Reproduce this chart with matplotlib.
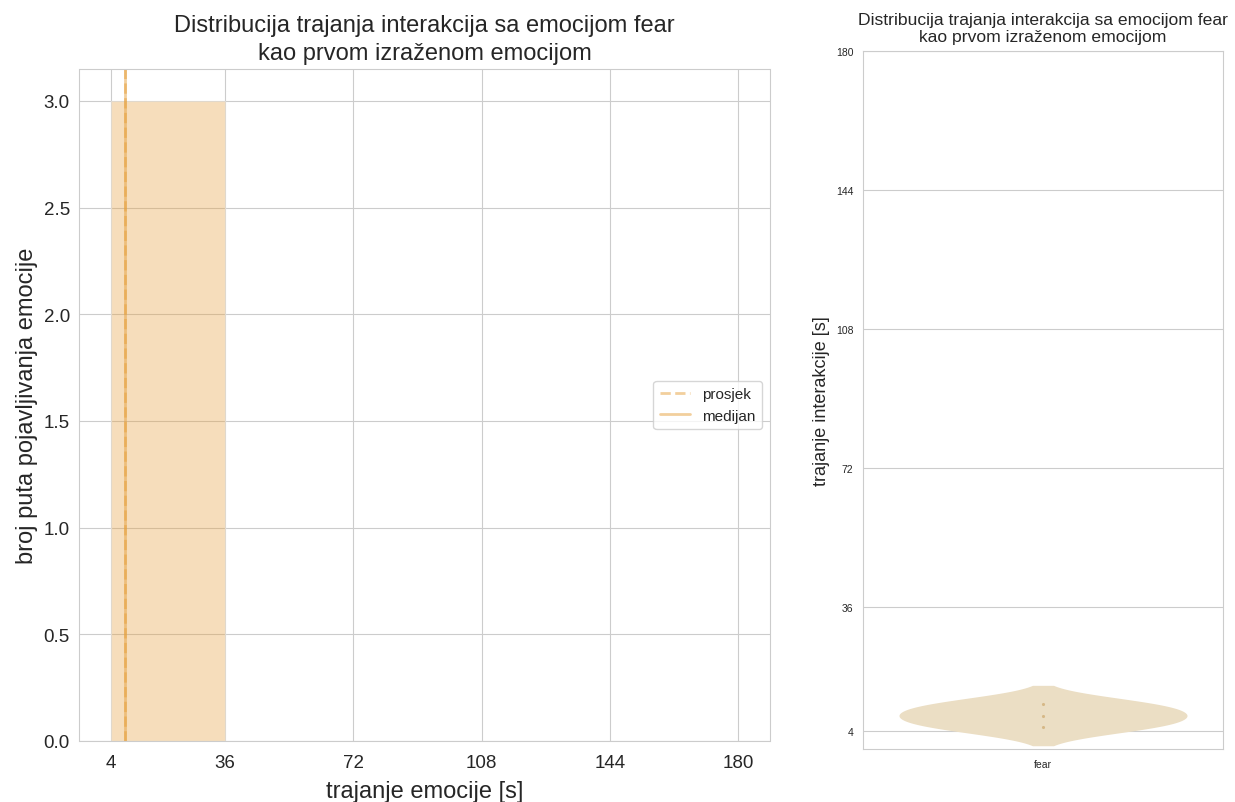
import matplotlib
matplotlib.use('Agg')
import matplotlib.pyplot as plt
import seaborn as sns
import numpy as np

# trajanja interakcija (s) za emociju "fear"
emotion = "fear"
durations = [5.0, 8.0, 11.0]
bin_edges = [4, 36, 72, 108, 144, 180]
violin_ticks = [4, 36, 72, 108, 144, 180]

base_color = (230 / 255, 160 / 255, 60 / 255)
violin_color = '#ebdec4'
title = 'Distribucija trajanja interakcija sa emocijom fear\nkao prvom izraženom emocijom'

sns.set_style('whitegrid')
plt.rcParams['font.family'] = ['Liberation Sans', 'DejaVu Sans']

fig = plt.figure(figsize=(12.35, 8.03), dpi=100)
W, H = 1235, 803
ax1 = fig.add_axes([79.5 / W, (H - 742) / H, 690 / W, 672 / H])
ax2 = fig.add_axes([863 / W, (H - 750) / H, 360 / W, 698 / H])

# histogram
ax1.hist(durations, bins=bin_edges, color=base_color, alpha=0.35)
ax1.axvline(np.mean(durations), color=base_color, alpha=0.5, linewidth=2,
            linestyle='--', label='prosjek')
ax1.axvline(np.median(durations), color=base_color, alpha=0.5, linewidth=2,
            label='medijan')
ax1.set_xticks(bin_edges)
ax1.tick_params(labelsize=13.5)
ax1.tick_params(axis='x', pad=6)
ax1.set_xlabel('trajanje emocije [s]', fontsize=17, labelpad=6)
ax1.set_ylabel('broj puta pojavljivanja emocije', fontsize=17)
ax1.set_title(title, fontsize=17, linespacing=1.35, pad=7)
ax1.legend(loc='center right', fontsize=11)

# violin
sns.violinplot(x=[emotion] * len(durations), y=durations, color=violin_color,
               saturation=1, inner=None, linewidth=0, ax=ax2)
ax2.scatter(np.zeros(len(durations)), durations, s=1.5, color='#d6b887', zorder=3)
ax2.set_xlim(-0.5, 0.5)
ax2.set_yticks(violin_ticks)
ax2.set_ylim(-0.66, 180)
ax2.xaxis.grid(False)
ax2.tick_params(labelsize=7.5)
ax2.set_xlabel('')
ax2.set_ylabel('trajanje interakcije [s]', fontsize=13)
ax2.set_title(title, fontsize=12.6, linespacing=1.2, pad=7)

plt.savefig('out.png', dpi=100)
